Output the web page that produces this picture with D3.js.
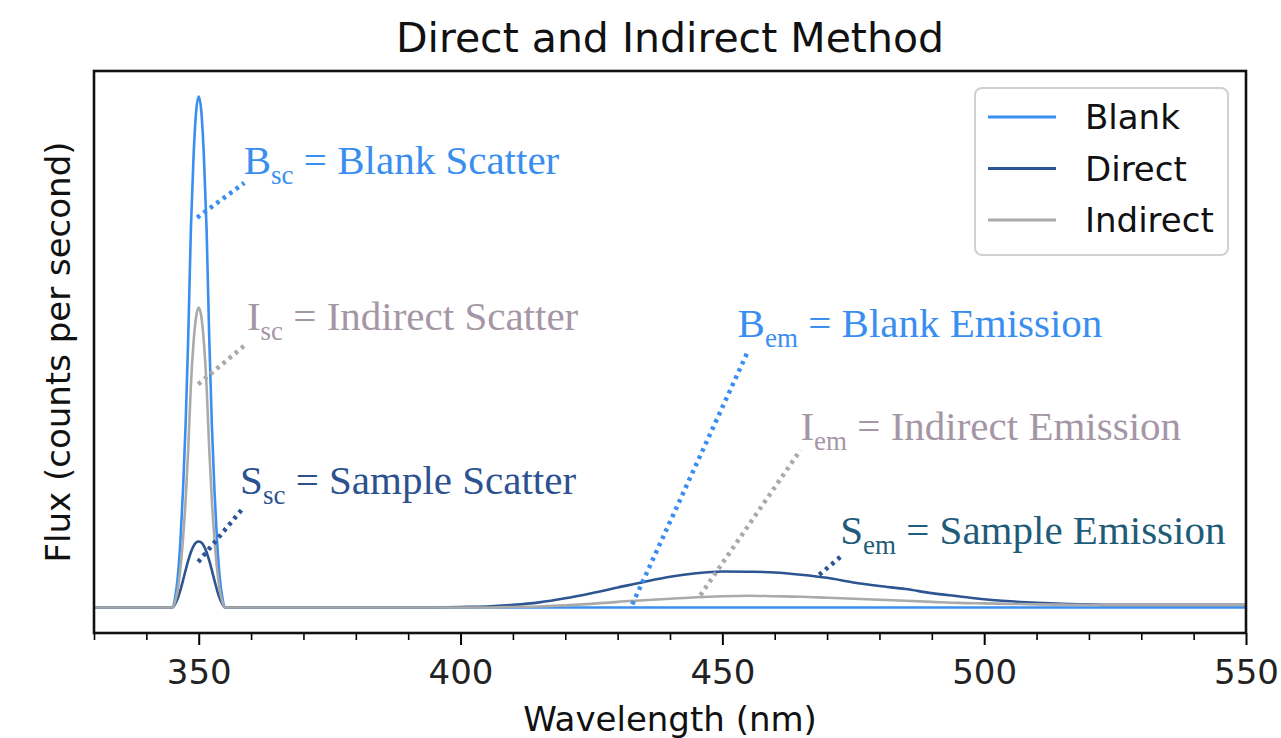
<!DOCTYPE html>
<html>
<head>
<meta charset="utf-8">
<script src="https://cdn.jsdelivr.net/npm/d3@7"></script>
<style>
  html, body { margin: 0; padding: 0; background: #ffffff; }
  svg { display: block; }
</style>
</head>
<body>
<svg id="chart" width="1281" height="738"></svg>
<script>
// ---------------- data ----------------
const wavelengths = [330, 340, 345, 345.5, 346, 346.5, 347, 347.5, 348, 348.5, 349, 349.5, 350,
  350.5, 351, 351.5, 352, 352.5, 353, 353.5, 354, 354.5, 355, 360, 370, 380, 390, 400, 405, 410,
  415, 420, 425, 430, 435, 440, 445, 450, 455, 460, 465, 470, 475, 480, 485, 490, 495, 500, 505,
  510, 515, 520, 525, 530, 540, 550];

const blank = [0, 0, 0, 0.02, 0.06, 0.13, 0.23, 0.36, 0.53, 0.74, 0.88, 0.97, 1.0,
  0.97, 0.88, 0.74, 0.53, 0.36, 0.23, 0.13, 0.06, 0.02, 0, 0, 0, 0, 0, 0, 0, 0,
  0, 0, 0, 0, 0, 0, 0, 0, 0, 0, 0, 0, 0, 0, 0, 0, 0, 0, 0,
  0, 0, 0, 0, 0, 0, 0];

const direct = [0, 0, 0, 0.007, 0.018, 0.034, 0.053, 0.073, 0.092, 0.108, 0.120, 0.127, 0.129,
  0.127, 0.120, 0.108, 0.092, 0.073, 0.053, 0.034, 0.018, 0.007, 0, 0, 0, 0, 0, 0.001, 0.002, 0.005,
  0.010, 0.018, 0.028, 0.039, 0.050, 0.060, 0.067, 0.0705, 0.0700, 0.0685, 0.064, 0.058, 0.049, 0.042, 0.036, 0.028, 0.022, 0.016, 0.012,
  0.009, 0.007, 0.006, 0.005, 0.005, 0.005, 0.005];

const indirect = [0, 0, 0, 0.012, 0.035, 0.076, 0.135, 0.211, 0.311, 0.434, 0.517, 0.569, 0.587,
  0.569, 0.517, 0.434, 0.311, 0.211, 0.135, 0.076, 0.035, 0.012, 0, 0, 0, 0, 0, 0, 0, 0.001,
  0.002, 0.004, 0.007, 0.011, 0.014, 0.017, 0.020, 0.022, 0.023, 0.022, 0.021, 0.019, 0.017, 0.015, 0.013, 0.011, 0.009, 0.008, 0.007,
  0.006, 0.0055, 0.005, 0.005, 0.005, 0.005, 0.005];

const seriesNames = ["Blank", "Direct", "Indirect"];
const seriesColors = ["#3a8ef0", "#2c5592", "#aaaaaa"];

const majorTicks = [350, 400, 450, 500, 550];
const minorTicks = [330, 340, 360, 370, 380, 390, 410, 420, 430, 440, 460, 470, 480, 490, 510, 520, 530, 540];

// annotations: main letter, subscript, rest of label, text anchor (nm, flux), leader start, leader end
const annMain = ["B", "I", "S", "B", "I", "S"];
const annSub = ["sc", "sc", "sc", "em", "em", "em"];
const annRest = [" = Blank Scatter", " = Indirect Scatter", " = Sample Scatter",
  " = Blank Emission", " = Indirect Emission", " = Sample Emission"];
const annTextAt = [[358.6, 0.848], [359.2, 0.543], [357.9, 0.222], [452.9, 0.529], [464.9, 0.328], [472.5, 0.124]];
const annFrom = [[349.7, 0.763], [349.9, 0.437], [349.9, 0.089], [432.8, 0.006], [445.8, 0.024], [468.5, 0.064]];
const annTo = [[358.7, 0.831], [358.9, 0.514], [358.5, 0.195], [455.0, 0.504], [464.9, 0.308], [472.8, 0.101]];
const annTextColors = ["#3a8ef0", "#a596a6", "#2b5190", "#3a8ef0", "#a596a6", "#1f5c7a"];
const annLineColors = ["#3a8ef0", "#aaaaaa", "#2c5592", "#3a8ef0", "#aaaaaa", "#2c5592"];

// ---------------- drawing ----------------
const svg = d3.select("#chart");
const pL = 94, pR = 1246, pT = 71, pB = 633;

const x = d3.scaleLinear().domain([330, 550]).range([pL, pR]);
const y = d3.scaleLinear().domain([-0.05, 1.05]).range([pB, pT]);

svg.append("rect").attr("width", 1281).attr("height", 738).attr("fill", "#fff");

svg.append("defs").append("clipPath").attr("id", "plotclip")
  .append("rect").attr("x", pL).attr("y", pT).attr("width", pR - pL).attr("height", pB - pT);

const plot = svg.append("g").attr("clip-path", "url(#plotclip)");

const line = d3.line().x(d => x(d[0])).y(d => y(d[1])).curve(d3.curveMonotoneX);
const seriesData = [blank, direct, indirect];
seriesData.forEach((vals, i) => {
  plot.append("path")
    .datum(wavelengths.map((w, j) => [w, vals[j]]))
    .attr("fill", "none")
    .attr("stroke", seriesColors[i])
    .attr("stroke-width", 2.6)
    .attr("stroke-linejoin", "round")
    .attr("d", line);
});

// annotation leader lines (dotted)
annFrom.forEach((p, i) => {
  svg.append("line")
    .attr("x1", x(p[0])).attr("y1", y(p[1]))
    .attr("x2", x(annTo[i][0])).attr("y2", y(annTo[i][1]))
    .attr("stroke", annLineColors[i])
    .attr("stroke-width", 4.5)
    .attr("stroke-dasharray", "3.5,4.5");
});

// annotation texts
annMain.forEach((m, i) => {
  const t = svg.append("text")
    .attr("x", x(annTextAt[i][0])).attr("y", y(annTextAt[i][1]))
    .attr("font-family", "'Liberation Serif', 'Times New Roman', serif")
    .attr("font-size", 41)
    .attr("fill", annTextColors[i]);
  t.append("tspan").text(m);
  t.append("tspan").attr("font-size", 27).attr("dy", 10).text(annSub[i]);
  t.append("tspan").attr("dy", -10).text(annRest[i]);
});

// axes
const font = "'DejaVu Sans', sans-serif";
const xAxis = d3.axisBottom(x).tickValues(majorTicks).tickFormat(d3.format("d")).tickSize(12).tickPadding(15);
const gx = svg.append("g").attr("transform", `translate(0,${pB})`).call(xAxis);
gx.select(".domain").remove();
gx.selectAll(".tick line").attr("stroke", "#000").attr("stroke-width", 2);
gx.selectAll(".tick text").attr("font-family", font).attr("font-size", 34).attr("fill", "#222");

const xMinor = d3.axisBottom(x).tickValues(minorTicks).tickFormat("").tickSize(7);
const gxm = svg.append("g").attr("transform", `translate(0,${pB})`).call(xMinor);
gxm.select(".domain").remove();
gxm.selectAll(".tick line").attr("stroke", "#000").attr("stroke-width", 1.6);

// frame
svg.append("rect")
  .attr("x", pL).attr("y", pT).attr("width", pR - pL).attr("height", pB - pT)
  .attr("fill", "none").attr("stroke", "#111").attr("stroke-width", 2.6);

// title & labels
svg.append("text").attr("x", (pL + pR) / 2).attr("y", 52)
  .attr("text-anchor", "middle").attr("font-family", font).attr("font-size", 41).attr("fill", "#111")
  .text("Direct and Indirect Method");

svg.append("text").attr("x", (pL + pR) / 2).attr("y", 731)
  .attr("text-anchor", "middle").attr("font-family", font).attr("font-size", 34).attr("fill", "#111")
  .text("Wavelength (nm)");

svg.append("text").attr("transform", `translate(70,${(pT + pB) / 2}) rotate(-90)`)
  .attr("text-anchor", "middle").attr("font-family", font).attr("font-size", 34).attr("fill", "#111")
  .text("Flux (counts per second)");

// legend
const lg = svg.append("g");
lg.append("rect").attr("x", 975).attr("y", 88).attr("width", 253).attr("height", 167)
  .attr("rx", 7).attr("fill", "#fff").attr("stroke", "#d0d0d0").attr("stroke-width", 2);
seriesNames.forEach((n, i) => {
  const yy = 117 + i * 51.5;
  lg.append("line").attr("x1", 988).attr("x2", 1056).attr("y1", yy).attr("y2", yy)
    .attr("stroke", seriesColors[i]).attr("stroke-width", 2.8);
  lg.append("text").attr("x", 1085).attr("y", yy + 12)
    .attr("font-family", font).attr("font-size", 34).attr("fill", "#111").text(n);
});
</script>
</body>
</html>
